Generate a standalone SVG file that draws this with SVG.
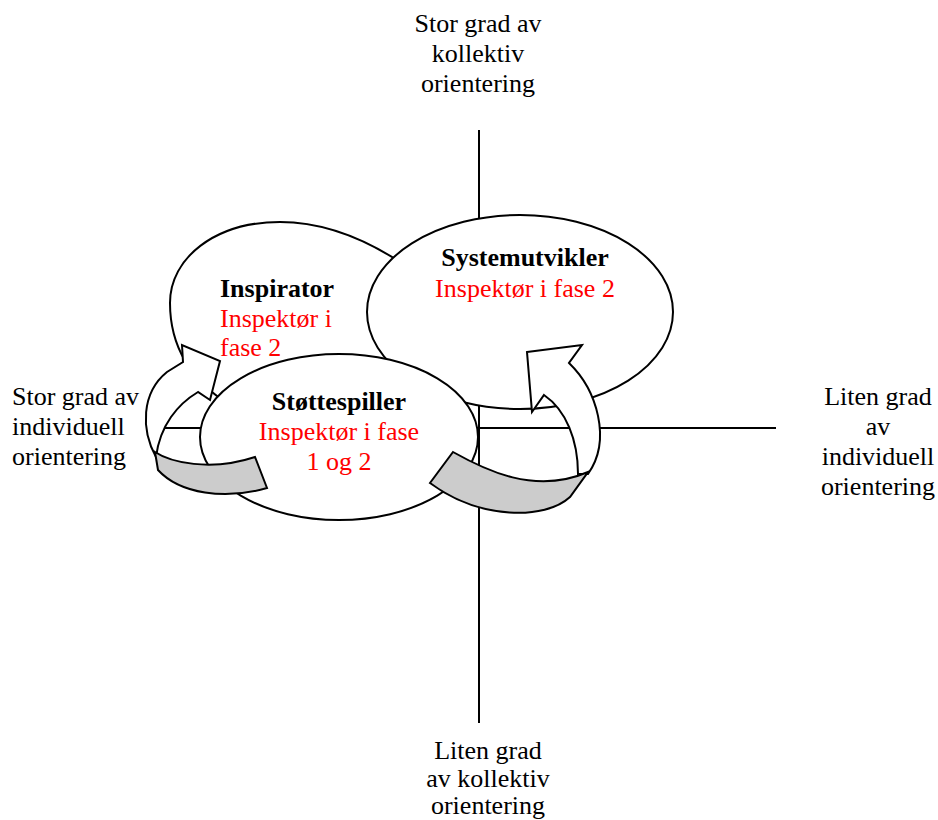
<svg xmlns="http://www.w3.org/2000/svg" width="938" height="820" viewBox="0 0 938 820">
  <style>
    .lbl { font-family: "Liberation Serif", "Times New Roman", serif; font-size: 26px; fill: #000; }
    .mid { text-anchor: middle; }
    .b { font-weight: bold; }
    .red { fill: #ff0000; }
    .axis { stroke: #000; stroke-width: 2; fill: none; }
    .oval { fill: #fff; stroke: #000; stroke-width: 2; }
    .ribbon { fill: #fff; stroke: #000; stroke-width: 2; stroke-linejoin: miter; }
    .fold { fill: #cccccc; stroke: #000; stroke-width: 2; stroke-linejoin: miter; }
  </style>

  <!-- axes -->
  <g id="axes">
    <line class="axis" x1="479" y1="130" x2="479" y2="723"/>
    <line class="axis" x1="160" y1="428" x2="776" y2="428"/>
  </g>

  <!-- axis captions -->
  <g id="caption-top">
    <text class="lbl mid" x="478" y="32">Stor grad av</text>
    <text class="lbl mid" x="478" y="62">kollektiv</text>
    <text class="lbl mid" x="478" y="92">orientering</text>
  </g>
  <g id="caption-left">
    <text class="lbl" x="12" y="405">Stor grad av</text>
    <text class="lbl" x="12" y="435">individuell</text>
    <text class="lbl" x="12" y="465">orientering</text>
  </g>
  <g id="caption-right">
    <text class="lbl mid" x="878" y="405">Liten grad</text>
    <text class="lbl mid" x="878" y="435">av</text>
    <text class="lbl mid" x="878" y="465">individuell</text>
    <text class="lbl mid" x="878" y="495">orientering</text>
  </g>
  <g id="caption-bottom">
    <text class="lbl mid" x="488" y="759">Liten grad</text>
    <text class="lbl mid" x="488" y="787">av kollektiv</text>
    <text class="lbl mid" x="488" y="814">orientering</text>
  </g>

  <!-- role nodes -->
  <g id="inspirator">
    <path class="oval" d="M 400,262 C 360,236 320,222 280,222 C 215,222 170,258 170,303 C 170,345 190,380 230,405 L 420,405 Z"/>
    <text class="lbl b" x="220" y="297">Inspirator</text>
    <text class="lbl red" x="220" y="327">Inspektør i</text>
    <text class="lbl red" x="220" y="356">fase 2</text>
  </g>
  <g id="systemutvikler">
    <ellipse class="oval" cx="520" cy="312" rx="153" ry="97"/>
    <text class="lbl b mid" x="525" y="266">Systemutvikler</text>
    <text class="lbl red mid" x="525" y="297">Inspektør i fase 2</text>
  </g>
  <g id="stottespiller">
    <ellipse class="oval" cx="339" cy="437" rx="139" ry="83"/>
    <text class="lbl b mid" x="339" y="410">Støttespiller</text>
    <text class="lbl red mid" x="339" y="440">Inspektør i fase</text>
    <text class="lbl red mid" x="339" y="470">1 og 2</text>
  </g>

  <!-- curved arrows -->
  <g id="connectors">
    <g id="arrow-left">
      <path class="ribbon" d="M 156,457 C 141,430 141,393 167,372 L 183,362 L 182,345 L 220,361 L 210,400 L 198,392 C 178,404 160,425 156,457 Z"/>
      <path class="fold" d="M 155,452 C 170,462 210,472 255,457 L 267,488 C 225,500 180,494 158,470 Z"/>
    </g>
    <g id="arrow-right">
      <path class="ribbon" d="M 527,352 L 582,345 L 569,363 C 597,390 612,440 588,474 L 578,474 C 578,440 566,410 544,395 L 532,412 Z"/>
      <path class="fold" d="M 453,452 C 485,470 535,495 588,472 L 570,497 C 545,520 480,520 430,483 Z"/>
    </g>
  </g>
</svg>
